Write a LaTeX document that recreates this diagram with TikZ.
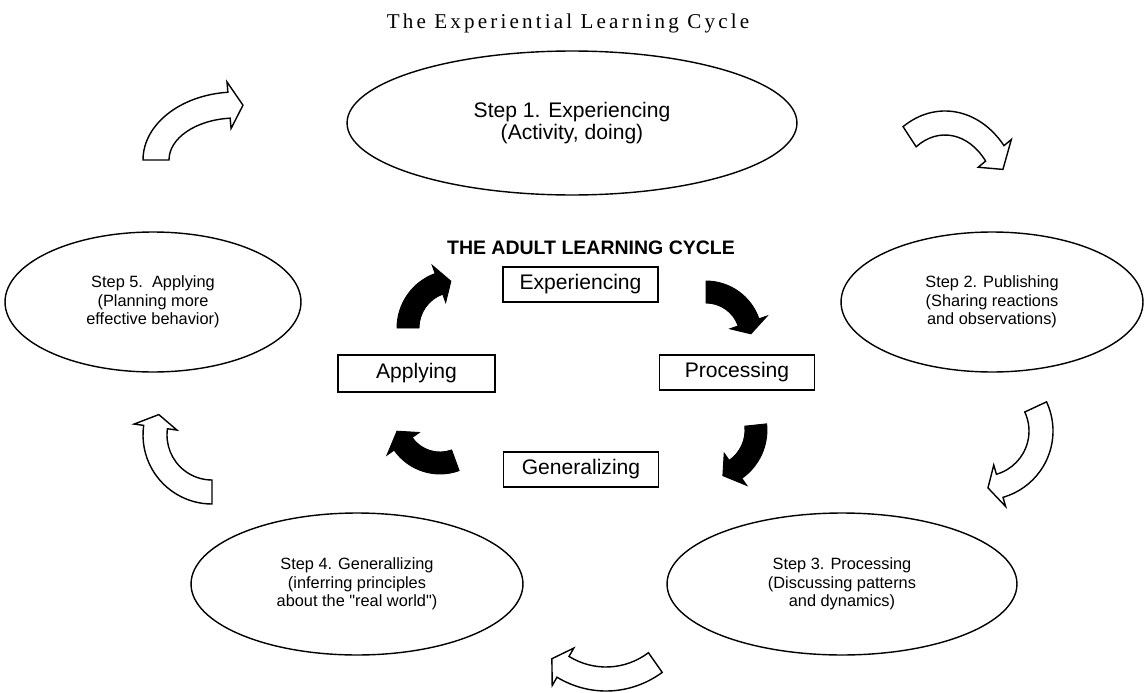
\documentclass[tikz,border=0pt]{standalone}
\usepackage{fontspec}
\setmainfont{Liberation Sans}[Ligatures=TeXOff]
\newfontfamily\spacedserif[LetterSpace=15]{Liberation Serif}
\usetikzlibrary{shapes.geometric}

\tikzset{
    openarrow/.style={draw=black,fill=white,line width=0.8pt},
    fullarrow/.style={draw=black,fill=black,line width=0.5pt}
}

% bent block arrow: [style]{centre}{x radius}{y radius}{tail angle}{head angle}{tip angle}{half width}
\newcommand{\bendarrow}[8][]{%
  \draw[#1] ([shift={(#2)}]#5:{#3+#8} and {#4+#8})
    arc[start angle=#5, end angle=#6, x radius={#3+#8}, y radius={#4+#8}]
    -- ([shift={(#2)}]#6:{#3+1.8*#8} and {#4+1.8*#8})
    -- ([shift={(#2)}]#7:#3 and #4)
    -- ([shift={(#2)}]#6:{#3-1.8*#8} and {#4-1.8*#8})
    -- ([shift={(#2)}]#6:{#3-#8} and {#4-#8})
    arc[start angle=#6, end angle=#5, x radius={#3-#8}, y radius={#4-#8}]
    -- cycle;}

\begin{document}
\begin{tikzpicture}[x=0.02cm,y=0.02cm]
\useasboundingbox (0,0) rectangle (1146,-693);
\node (T) at (568,-23) {\spacedserif\fontsize{12}{14}\selectfont The Experiential Learning Cycle};
\node[font=\bfseries\fontsize{11.1}{13}\selectfont] (H) at (591,-248) {THE ADULT LEARNING CYCLE};
\begin{scope}[every node/.style={ellipse,draw,line width=0.8pt,inner sep=0pt,align=center,
    font=\fontsize{9.3}{10.6}\selectfont}]
    \node[minimum width=9cm,minimum height=2.88cm,font=\fontsize{12}{12.5}\selectfont] (S1) at (572,-123) {Step 1. Experiencing\\(Activity, doing)};
    \node[minimum width=6.04cm,minimum height=2.8cm] (S2) at (992,-302) {Step 2. Publishing\\(Sharing reactions\\and observations)};
    \node[minimum width=7cm,minimum height=2.84cm] (S3) at (842,-584) {Step 3. Processing\\(Discussing patterns\\and dynamics)};
    \node[minimum width=6.64cm,minimum height=2.84cm] (S4) at (357,-584) {Step 4. Generallizing\\(inferring principles\\about the "real world")};
    \node[minimum width=5.92cm,minimum height=2.8cm] (S5) at (153,-302) {Step 5.~~Applying\\(Planning more\\effective behavior)};
\end{scope}
\begin{scope}[every node/.style={draw,line width=0.8pt,inner sep=0pt,minimum width=3.1cm,minimum height=0.7cm,
    font=\fontsize{12}{14}\selectfont}]
    \node (E) at (580.5,-284.5) {Experiencing};
    \node (P) at (737,-372.5) {Processing};
    \node (G) at (581,-469.5) {Generalizing};
    \node[minimum width=3.14cm,minimum height=0.74cm] (A) at (416.5,-373.5) {Applying};
\end{scope}
% outer ring of hollow arrows
\bendarrow[openarrow]{236,-160}{80}{55}{180}{95}{85}{13}
\bendarrow[openarrow]{945,-208}{65}{85}{123}{40}{27}{12}
\bendarrow[openarrow]{984,-431}{57}{57}{25}{-74}{-86}{12}
\bendarrow[openarrow]{606,-588}{86}{91}{-55}{-120}{-129}{12}
\bendarrow[openarrow]{212,-435}{57}{57}{-90}{-188}{-201}{12}
% inner ring of solid arrows
\bendarrow[fullarrow]{455,-328}{47}{47}{180}{110}{95}{11}
\bendarrow[fullarrow]{706,-337}{45}{45}{90}{19}{4}{11}
\bendarrow[fullarrow]{708,-430}{48}{48}{6}{-55}{-72}{11}
\bendarrow[fullarrow]{440,-418}{45}{45}{-70}{-145}{-163}{11}
\end{tikzpicture}
\end{document}
